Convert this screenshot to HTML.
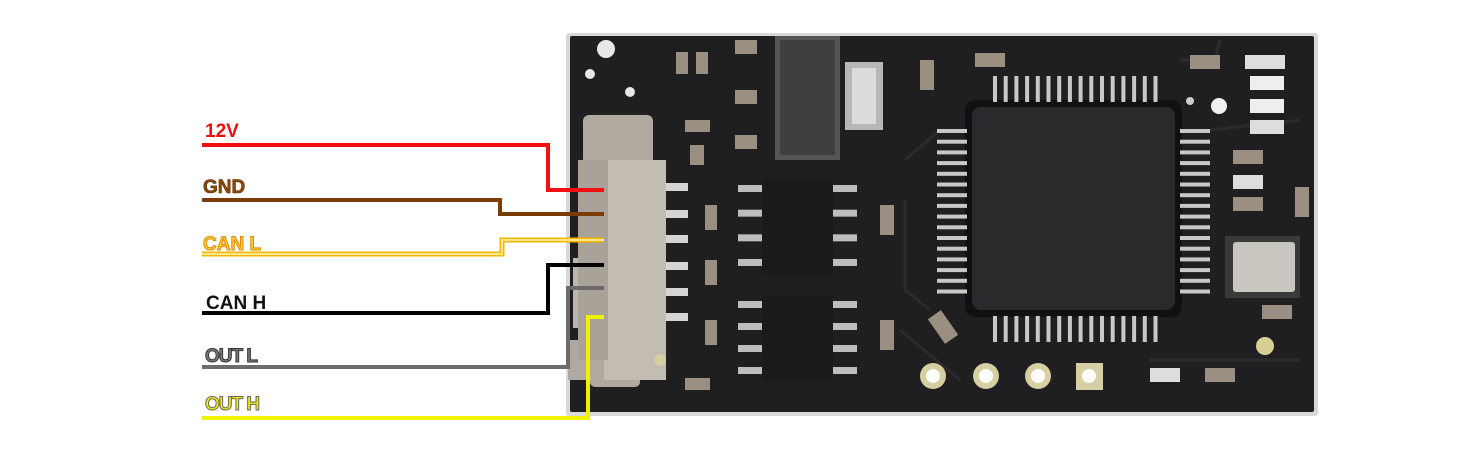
<!DOCTYPE html>
<html><head><meta charset="utf-8"><style>
html,body{margin:0;padding:0;background:#fff;width:1474px;height:466px;overflow:hidden}
svg{display:block}
text{font-family:"Liberation Sans",sans-serif;font-weight:bold;font-size:19px}
</style></head><body>
<svg id="s" width="1474" height="466" viewBox="0 0 1474 466" xmlns="http://www.w3.org/2000/svg">
<!-- board -->
<rect x="566" y="33" width="752" height="383" rx="3" fill="#d8d8d8"/>
<rect x="570" y="36" width="744" height="376" rx="2" fill="#1f1f21"/>
<g fill="none" stroke="#2c2c2e" stroke-width="3">
<path d="M905 160 L940 130 M905 200 L905 290 L930 310 M1180 60 L1215 60 L1220 40 M1210 130 L1300 120 M900 330 L960 380 M1150 360 L1300 360"/>
</g>
<!-- mounting holes -->
<circle cx="606" cy="49" r="9" fill="#e8e8e8"/>
<circle cx="590" cy="74" r="5" fill="#e8e8e8"/>
<circle cx="630" cy="92" r="5" fill="#e8e8e8"/>
<circle cx="1219" cy="106" r="8" fill="#f0f0f0"/>
<circle cx="1190" cy="101" r="4" fill="#ccc"/>
<circle cx="1265" cy="346" r="9" fill="#d8cf96"/>
<!-- regulator -->
<rect x="775" y="36" width="65" height="124" fill="#555"/>
<rect x="780" y="40" width="55" height="115" fill="#3f3f42"/>
<rect x="845" y="62" width="38" height="68" fill="#b8b8b8"/>
<rect x="852" y="68" width="24" height="56" fill="#dcdcdc"/>
<!-- QFP -->
<rect x="965" y="100" width="217" height="217" rx="10" fill="#111"/>
<rect x="972" y="107" width="203" height="203" rx="9" fill="#2a2a2c"/>
<g id="pins" fill="#c8c8c8"></g>
<!-- SO8 chips -->
<rect x="762" y="178" width="71" height="97" fill="#1a1a1a"/>
<rect x="762" y="296" width="71" height="86" fill="#1a1a1a"/>
<g id="sop" fill="#bdbdbd"></g>
<!-- crystal -->
<rect x="1225" y="236" width="75" height="62" fill="#3a3a3a"/>
<rect x="1233" y="242" width="62" height="50" rx="3" fill="#c9c6c0"/>
<!-- smd parts -->
<g fill="#9a8f80">
<rect x="735" y="40" width="22" height="14"/><rect x="676" y="52" width="12" height="22"/><rect x="696" y="52" width="12" height="22"/>
<rect x="735" y="90" width="22" height="14"/><rect x="735" y="135" width="22" height="14"/>
<rect x="920" y="60" width="14" height="30"/><rect x="975" y="53" width="30" height="14"/>
<rect x="1190" y="55" width="30" height="14"/><rect x="1245" y="55" width="40" height="14" fill="#ddd"/>
<rect x="1250" y="76" width="34" height="14" fill="#eee"/><rect x="1250" y="99" width="34" height="14" fill="#eee"/>
<rect x="1250" y="120" width="34" height="14" fill="#ddd"/>
<rect x="1233" y="150" width="30" height="14"/><rect x="1233" y="175" width="30" height="14" fill="#ddd"/><rect x="1233" y="197" width="30" height="14"/>
<rect x="1295" y="187" width="14" height="30"/><rect x="1262" y="305" width="30" height="14"/>
<rect x="880" y="205" width="14" height="30"/><rect x="880" y="320" width="14" height="30"/>
<rect x="705" y="205" width="12" height="25"/><rect x="705" y="260" width="12" height="25"/><rect x="705" y="320" width="12" height="25"/>
<rect x="685" y="378" width="25" height="12"/><rect x="685" y="120" width="25" height="12"/><rect x="690" y="145" width="14" height="20"/>
<rect x="1150" y="368" width="30" height="14" fill="#ddd"/><rect x="1205" y="368" width="30" height="14"/>
<rect x="935" y="312" width="16" height="30" transform="rotate(-35 943 327)"/>
</g>
<!-- pads bottom -->
<g fill="#d6cfa2"><circle cx="933" cy="376" r="13"/><circle cx="986" cy="376" r="13"/><circle cx="1038" cy="376" r="13"/><rect x="1076" y="363" width="27" height="27"/></g>
<g fill="#fff"><circle cx="933" cy="376" r="7"/><circle cx="986" cy="376" r="7"/><circle cx="1038" cy="376" r="7"/><circle cx="1089" cy="376" r="7"/></g>
<!-- connector -->
<rect x="573" y="258" width="30" height="70" fill="#bdb6ad"/>
<rect x="583" y="115" width="70" height="50" rx="6" fill="#b0a99f"/>
<rect x="568" y="340" width="50" height="40" fill="#b0a99f"/>
<rect x="590" y="355" width="50" height="32" rx="5" fill="#b0a99f"/>
<rect x="604" y="160" width="62" height="220" fill="#c3bcb2"/>
<rect x="578" y="160" width="30" height="200" fill="#a9a298"/>
<g fill="#d4d4d4"><rect x="666" y="183" width="22" height="8"/><rect x="666" y="210" width="22" height="8"/><rect x="666" y="235" width="22" height="8"/><rect x="666" y="262" width="22" height="8"/><rect x="666" y="288" width="22" height="8"/><rect x="666" y="313" width="22" height="8"/></g>
<circle cx="660" cy="360" r="6" fill="#d6cfa2"/>
<!-- wires -->
<g fill="none" stroke-width="4">
<path d="M202 145 H548 V190 H604" stroke="#f01010"/>
<path d="M202 200 H500 V214 H604" stroke="#7a3c00"/>
<path d="M202 254 H502 V240 H604" stroke="#f5b800" stroke-width="5"/>
<path d="M202 254 H502 V240 H604" stroke="#fff5c0" stroke-width="1.5"/>
<path d="M202 313 H548 V265 H604" stroke="#000"/>
<path d="M202 367 H568 V288 H604" stroke="#6c6c6c"/>
<path d="M202 418 H588 V317 H604" stroke="#f0f000"/>
</g>
<text x="205" y="137" fill="#e81010">12V</text>
<text x="203" y="193" fill="#8a4a08" stroke="#5a2a00" stroke-width="0.6">GND</text>
<text x="203" y="250" fill="#ffcc40" stroke="#e08a00" stroke-width="1">CAN  L</text>
<text x="206" y="309" fill="#111">CAN  H</text>
<text x="205" y="362" fill="#7a7a7a" stroke="#333" stroke-width="1" letter-spacing="-1">OUT L</text>
<text x="205" y="410" fill="#f0f000" stroke="#666" stroke-width="1" letter-spacing="-1">OUT H</text>
</svg>
<script>
var ns="http://www.w3.org/2000/svg",g=document.getElementById("pins");
function r(p,x,y,w,h){var e=document.createElementNS(ns,"rect");e.setAttribute("x",x);e.setAttribute("y",y);e.setAttribute("width",w);e.setAttribute("height",h);p.appendChild(e);}
for(var i=0;i<16;i++){var o=i*10.7;r(g,993+o,76,4,26);r(g,993+o,316,4,26);r(g,937,129+o,30,4);r(g,1180,129+o,30,4);}
var s=document.getElementById("sop");
[[188,262],[304,370]].forEach(function(a){for(var k=0;k<4;k++){var y=a[0]+k*(a[1]-a[0])/3;r(s,738,y-3,24,7);r(s,833,y-3,24,7);}});
</script>
</body></html>
